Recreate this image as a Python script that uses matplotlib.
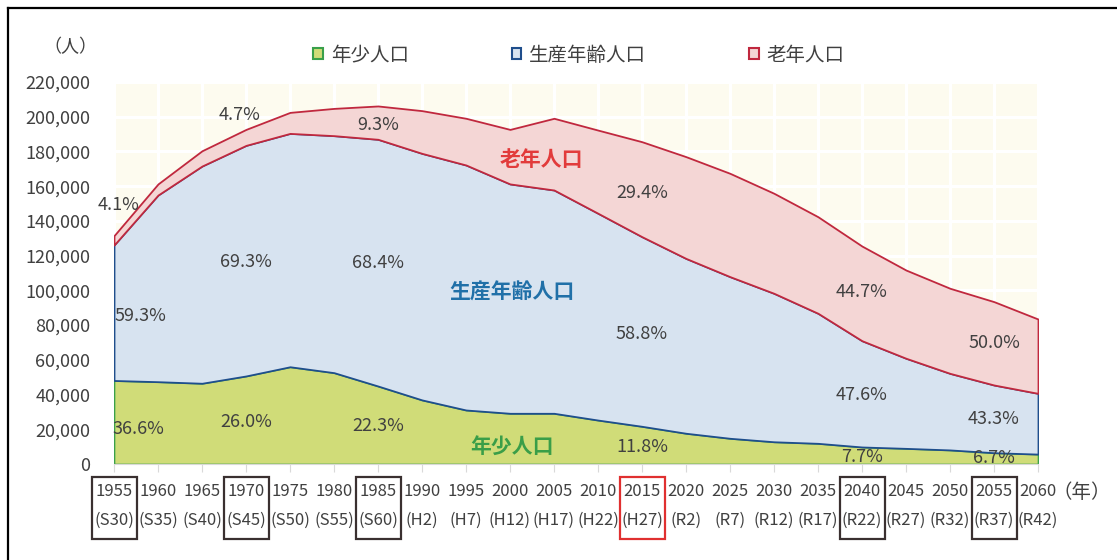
import matplotlib
matplotlib.use("Agg")
import matplotlib.pyplot as plt
from matplotlib.patches import Patch, Rectangle
from matplotlib.lines import Line2D
from matplotlib.ticker import StrMethodFormatter
import numpy as np

plt.rcParams["font.family"] = ["Noto Sans CJK JP", "DejaVu Sans"]

years = [1955, 1960, 1965, 1970, 1975, 1980, 1985, 1990, 1995, 2000, 2005,
         2010, 2015, 2020, 2025, 2030, 2035, 2040, 2045, 2050, 2055, 2060]
eras = ["S30", "S35", "S40", "S45", "S50", "S55", "S60", "H2", "H7", "H12", "H17",
        "H22", "H27", "R2", "R7", "R12", "R17", "R22", "R27", "R32", "R37", "R42"]
young = [48100, 47400, 46500, 50700, 56000, 52600, 44900, 36900, 31100, 29200, 29200,
         25300, 21700, 17700, 14800, 12800, 11900, 9800, 9000, 8100, 6500, 5700]
working = [78000, 107500, 125100, 132800, 134400, 136500, 142100, 142000, 141100, 132100, 128600,
           119100, 109200, 100700, 93100, 85500, 74900, 61200, 51900, 44100, 39000, 35000]
elderly = [5400, 6400, 8800, 9200, 12100, 15700, 19200, 24600, 26900, 31400, 41300,
           47900, 54700, 58600, 59500, 57600, 55600, 54500, 50800, 49000, 48000, 42800]
boxed_years = [1955, 1970, 1985, 2040, 2055]
current_year = 2015

# (text, year index, value)
pct_labels = [
    ("4.1%", 0.1, 149000), ("4.7%", 2.86, 201000), ("9.3%", 6, 195200),
    ("59.3%", 0.6, 85200), ("69.3%", 3, 116300), ("68.4%", 6, 115700),
    ("36.6%", 0.55, 20200), ("26.0%", 3, 24200), ("22.3%", 6, 21900),
    ("29.4%", 12, 156200), ("58.8%", 12, 74900), ("11.8%", 12, 10000),
    ("44.7%", 17, 99200), ("47.6%", 17, 39700), ("7.7%", 17, 4200),
    ("50.0%", 20, 69500), ("43.3%", 20, 25700), ("6.7%", 20, 3300),
]

c_young, e_young = "#d0dc78", "#3aa04a"
c_work, e_work = "#d7e3f0", "#1f4e8c"
c_old, e_old = "#f4d6d5", "#c0283e"
txt = "#404040"

x = np.arange(len(years))
y1 = np.array(young)
y2 = y1 + np.array(working)
y3 = y2 + np.array(elderly)

fig = plt.figure(figsize=(11.17, 5.6), dpi=100)
ax = fig.add_axes([114 / 1117, 96 / 560, 924 / 1117, 382 / 560])

ax.fill_between(x, 0, y1, facecolor=c_young, edgecolor=e_young, lw=1.2, zorder=2)
ax.fill_between(x, y1, y2, facecolor=c_work, edgecolor=e_work, lw=1.3, zorder=3)
ax.fill_between(x, y2, y3, facecolor=c_old, edgecolor=e_old, lw=1.3, zorder=4)

ax.set_xlim(0, len(years) - 1)
ax.set_ylim(0, 220000)
ax.set_facecolor("#fdfbef")
ax.set_yticks(np.arange(0, 220001, 20000))
ax.yaxis.set_major_formatter(StrMethodFormatter("{x:,.0f}"))
ax.grid(color="white", lw=2.2)
ax.set_axisbelow(True)
for s in ["top", "right", "left"]:
    ax.spines[s].set_visible(False)
ax.spines["bottom"].set_color("#d9d9d9")
ax.tick_params(axis="y", length=0, pad=17, labelsize=13, labelcolor=txt)
ax.tick_params(axis="x", length=6, color="#d9d9d9", pad=7.5, labelsize=12, labelcolor=txt)
ax.set_xticks(x)
ax.set_xticklabels([f"{yr}\n({e})" for yr, e in zip(years, eras)])
for lab in ax.get_xticklabels():
    lab.set_linespacing(1.95)

tr = ax.get_xaxis_transform()
for i, yr in enumerate(years):
    if yr in boxed_years or yr == current_year:
        col = "#e03030" if yr == current_year else "#3a3030"
        ax.add_patch(Rectangle((i - 0.5, -0.196), 1.02, 0.162, transform=tr,
                               fill=False, ec=col, lw=1.6, clip_on=False))

for t, xi, v in pct_labels:
    ax.text(xi, v, t, ha="center", va="center", fontsize=13, color=txt, zorder=6)

ax.text(9.72, 175500, "老年人口", ha="center", va="center", fontsize=15,
        fontweight="bold", color="#e23b3b", zorder=6)
ax.text(9.04, 99200, "生産年齢人口", ha="center", va="center", fontsize=15,
        fontweight="bold", color="#2070a8", zorder=6)
ax.text(9.04, 10400, "年少人口", ha="center", va="center", fontsize=15,
        fontweight="bold", color="#3a9e48", zorder=6)

fig.text(70 / 1117, 1 - 47 / 560, "（人）", ha="center", va="center", fontsize=13, color=txt)
fig.text(1052 / 1117, 1 - 492 / 560, "（年）", ha="left", va="center", fontsize=14, color=txt)

handles = [Patch(facecolor=c_young, edgecolor=e_young, lw=1.5, label="年少人口"),
           Patch(facecolor=c_work, edgecolor=e_work, lw=1.5, label="生産年齢人口"),
           Patch(facecolor=c_old, edgecolor=e_old, lw=1.5, label="老年人口")]
leg = fig.legend(handles=handles, loc="center", bbox_to_anchor=(579 / 1117, 1 - 55 / 560),
                 ncol=3, frameon=False, fontsize=14, handlelength=0.5, handleheight=0.5,
                 handletextpad=0.4, columnspacing=5.3, labelcolor=txt)

# outer frame
fx, fy = 8 / 1117, 1 - 8 / 560
fig.add_artist(Line2D([fx, fx], [0, fy], color="black", lw=1.6, transform=fig.transFigure))
fig.add_artist(Line2D([fx, 1], [fy, fy], color="black", lw=1.6, transform=fig.transFigure))

fig.savefig("out.png", dpi=100)
